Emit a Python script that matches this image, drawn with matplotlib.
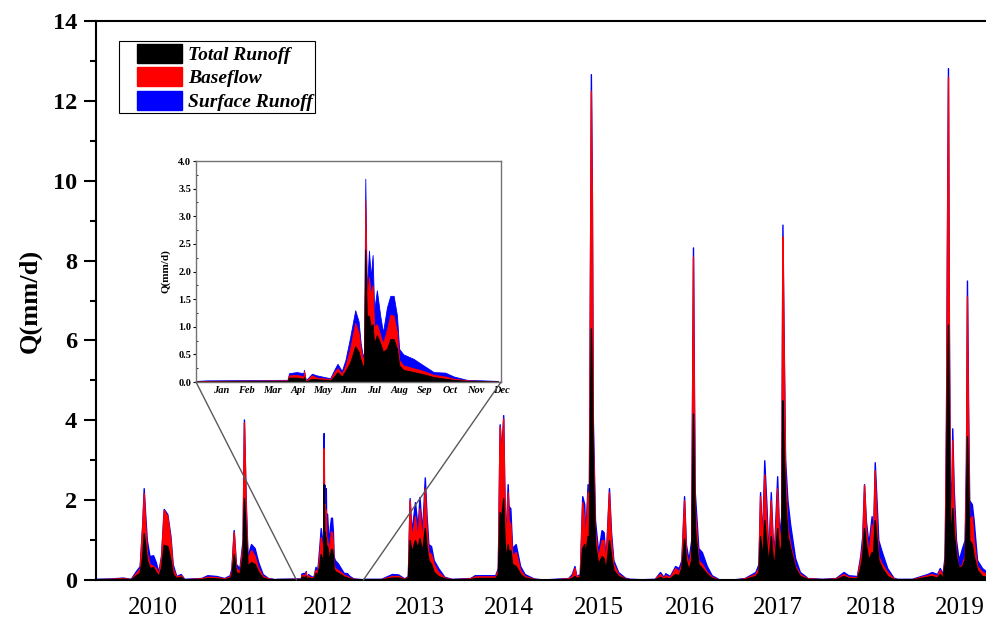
import numpy as np
import matplotlib.pyplot as plt
from matplotlib.patches import Patch, ConnectionPatch
from matplotlib.legend_handler import HandlerPatch
from matplotlib.ticker import MultipleLocator, FormatStrFormatter

plt.rcParams['font.family'] = 'Liberation Serif'

# Runoff (mm/d) at turning points of each year's hydrograph.
# frac_* = position within the year (0 = 1 Jan, 1 = 31 Dec).
frac_2010 = [0.00, 0.17, 0.30, 0.39, 0.44, 0.49, 0.52, 0.535, 0.55, 0.57, 0.60, 0.64, 0.67, 0.70, 0.73, 0.76, 0.80, 0.835, 0.86, 0.90, 0.95, 0.99]
surf_2010 = [0.03, 0.04, 0.06, 0.03, 0.20, 0.35, 1.45, 2.30, 1.70, 1.00, 0.60, 0.62, 0.45, 0.20, 0.62, 1.78, 1.65, 1.10, 0.40, 0.10, 0.15, 0.03]
base_2010 = [0.02, 0.03, 0.05, 0.02, 0.15, 0.28, 1.40, 2.18, 1.50, 0.70, 0.40, 0.35, 0.30, 0.15, 0.55, 1.75, 1.60, 1.00, 0.30, 0.08, 0.12, 0.02]
total_2010 = [0.01, 0.02, 0.03, 0.01, 0.10, 0.18, 0.60, 1.17, 0.90, 0.50, 0.30, 0.32, 0.20, 0.10, 0.30, 0.88, 0.85, 0.50, 0.15, 0.05, 0.08, 0.01]

frac_2011 = [0.00, 0.18, 0.25, 0.35, 0.44, 0.50, 0.52, 0.545, 0.57, 0.61, 0.645, 0.66, 0.68, 0.70, 0.74, 0.78, 0.82, 0.87, 0.93, 0.99]
surf_2011 = [0.03, 0.05, 0.12, 0.10, 0.05, 0.12, 0.30, 1.25, 0.40, 0.30, 1.00, 4.02, 2.00, 0.60, 0.90, 0.80, 0.45, 0.15, 0.05, 0.03]
base_2011 = [0.02, 0.04, 0.08, 0.07, 0.04, 0.08, 0.22, 1.20, 0.30, 0.20, 0.90, 3.95, 1.80, 0.50, 0.75, 0.60, 0.30, 0.10, 0.04, 0.02]
total_2011 = [0.01, 0.02, 0.05, 0.04, 0.02, 0.05, 0.12, 0.65, 0.20, 0.15, 0.60, 2.05, 1.20, 0.35, 0.45, 0.40, 0.20, 0.06, 0.02, 0.01]

frac_2012 = [0.00, 0.035, 0.30, 0.305, 0.33, 0.352, 0.354, 0.36, 0.38, 0.396, 0.43, 0.44, 0.456, 0.464, 0.478, 0.49, 0.505, 0.522, 0.533, 0.54, 0.546, 0.551,
             0.555, 0.56, 0.567, 0.573, 0.579, 0.584, 0.593, 0.604, 0.613, 0.626, 0.637, 0.648, 0.659, 0.666, 0.68, 0.713, 0.746, 0.779, 0.817, 0.845, 0.888, 0.99]
surf_2012 = [0.02, 0.03, 0.04, 0.16, 0.18, 0.16, 0.22, 0.03, 0.15, 0.12, 0.08, 0.07, 0.25, 0.33, 0.20, 0.40, 0.80, 1.30, 1.10, 0.70, 0.50, 0.50,
             3.68, 1.60, 2.38, 1.90, 2.30, 1.30, 1.66, 1.20, 0.90, 1.35, 1.56, 1.56, 1.20, 0.60, 0.50, 0.42, 0.30, 0.18, 0.17, 0.10, 0.04, 0.02]
base_2012 = [0.01, 0.02, 0.03, 0.12, 0.13, 0.10, 0.20, 0.02, 0.12, 0.08, 0.06, 0.05, 0.20, 0.25, 0.15, 0.30, 0.60, 1.07, 0.90, 0.60, 0.45, 0.45,
             3.30, 1.50, 1.90, 1.60, 1.75, 1.00, 1.05, 0.85, 0.70, 0.95, 1.22, 1.20, 0.90, 0.40, 0.30, 0.25, 0.20, 0.13, 0.10, 0.06, 0.03, 0.01]
total_2012 = [0.01, 0.01, 0.02, 0.08, 0.08, 0.06, 0.10, 0.01, 0.06, 0.05, 0.04, 0.03, 0.12, 0.18, 0.10, 0.20, 0.35, 0.65, 0.55, 0.40, 0.30, 0.30,
              2.40, 1.20, 1.20, 1.00, 1.05, 0.70, 0.85, 0.70, 0.55, 0.60, 0.78, 0.78, 0.60, 0.30, 0.22, 0.18, 0.14, 0.09, 0.06, 0.04, 0.02, 0.01]

frac_2013 = [0.00, 0.20, 0.32, 0.39, 0.46, 0.50, 0.52, 0.54, 0.58, 0.61, 0.63, 0.66, 0.69, 0.71, 0.73, 0.76, 0.79, 0.84, 0.91, 0.99]
surf_2013 = [0.03, 0.03, 0.15, 0.14, 0.04, 0.10, 2.05, 1.20, 1.95, 1.30, 2.08, 1.20, 2.57, 1.60, 0.90, 0.85, 0.50, 0.30, 0.08, 0.03]
base_2013 = [0.02, 0.02, 0.10, 0.10, 0.03, 0.08, 2.00, 1.00, 1.60, 1.00, 1.80, 0.90, 2.30, 1.30, 0.70, 0.65, 0.40, 0.20, 0.06, 0.02]
total_2013 = [0.01, 0.01, 0.06, 0.06, 0.02, 0.05, 1.00, 0.70, 1.00, 0.80, 1.05, 0.70, 1.30, 0.80, 0.50, 0.40, 0.20, 0.10, 0.04, 0.01]

frac_2014 = [0.00, 0.20, 0.25, 0.48, 0.51, 0.53, 0.55, 0.57, 0.58, 0.595, 0.62, 0.63, 0.65, 0.67, 0.71, 0.76, 0.81, 0.91, 0.99]
surf_2014 = [0.03, 0.05, 0.12, 0.12, 0.30, 3.90, 3.20, 4.13, 2.60, 0.90, 2.40, 1.85, 1.80, 0.80, 0.90, 0.35, 0.15, 0.04, 0.02]
base_2014 = [0.02, 0.04, 0.09, 0.09, 0.25, 3.85, 3.10, 4.05, 2.50, 0.70, 2.20, 1.50, 1.40, 0.60, 0.70, 0.25, 0.10, 0.03, 0.01]
total_2014 = [0.01, 0.02, 0.05, 0.05, 0.15, 1.70, 1.60, 2.05, 1.30, 0.50, 0.90, 0.70, 0.75, 0.40, 0.35, 0.15, 0.06, 0.02, 0.01]

frac_2015 = [0.00, 0.075, 0.30, 0.34, 0.37, 0.39, 0.43, 0.457, 0.48, 0.49, 0.517, 0.53, 0.554, 0.565, 0.576, 0.60, 0.636, 0.674, 0.697, 0.72, 0.757, 0.78, 0.806, 0.86, 0.936, 0.99]
surf_2015 = [0.02, 0.02, 0.05, 0.15, 0.35, 0.10, 0.15, 2.10, 1.90, 1.00, 2.40, 1.20, 12.67, 9.70, 4.00, 1.50, 0.70, 1.25, 1.20, 0.50, 2.30, 1.20, 0.50, 0.20, 0.06, 0.03]
base_2015 = [0.01, 0.01, 0.04, 0.10, 0.30, 0.08, 0.12, 1.95, 1.50, 0.80, 2.20, 1.00, 12.25, 9.50, 3.60, 1.20, 0.55, 1.00, 1.00, 0.40, 2.20, 1.00, 0.40, 0.15, 0.04, 0.02]
total_2015 = [0.01, 0.01, 0.02, 0.05, 0.10, 0.05, 0.08, 0.80, 0.90, 0.60, 1.10, 0.70, 6.30, 5.00, 2.80, 0.90, 0.40, 0.60, 0.55, 0.25, 1.00, 0.60, 0.25, 0.10, 0.03, 0.01]

frac_2016 = [0.00, 0.124, 0.27, 0.33, 0.37, 0.39, 0.44, 0.50, 0.54, 0.57, 0.60, 0.62, 0.65, 0.68, 0.70, 0.71, 0.72, 0.76, 0.80, 0.855, 0.91, 0.99]
surf_2016 = [0.03, 0.02, 0.03, 0.20, 0.08, 0.17, 0.10, 0.35, 0.30, 0.50, 2.10, 0.90, 0.50, 1.00, 8.33, 5.00, 2.20, 0.80, 0.70, 0.35, 0.12, 0.02]
base_2016 = [0.02, 0.01, 0.02, 0.15, 0.06, 0.12, 0.07, 0.30, 0.20, 0.40, 2.00, 0.70, 0.35, 0.80, 8.10, 4.50, 1.80, 0.50, 0.40, 0.20, 0.08, 0.01]
total_2016 = [0.01, 0.01, 0.01, 0.08, 0.03, 0.06, 0.04, 0.15, 0.12, 0.30, 1.04, 0.50, 0.25, 0.50, 4.17, 2.60, 1.30, 0.40, 0.30, 0.15, 0.05, 0.01]

frac_2017 = [0.00, 0.17, 0.28, 0.40, 0.435, 0.453, 0.476, 0.50, 0.524, 0.546, 0.573, 0.597, 0.615, 0.645, 0.667, 0.69, 0.704, 0.715, 0.734, 0.76, 0.79, 0.846, 0.90, 0.96, 0.99]
surf_2017 = [0.02, 0.02, 0.05, 0.20, 0.40, 2.20, 1.00, 3.00, 1.90, 0.60, 2.20, 0.90, 1.00, 2.60, 1.10, 1.60, 8.90, 6.50, 3.00, 2.00, 1.40, 0.55, 0.20, 0.10, 0.04]
base_2017 = [0.01, 0.01, 0.04, 0.15, 0.30, 2.10, 0.80, 2.65, 1.50, 0.50, 2.00, 0.70, 0.80, 2.30, 0.90, 1.30, 8.60, 6.30, 2.60, 1.30, 0.90, 0.35, 0.15, 0.07, 0.03]
total_2017 = [0.01, 0.01, 0.02, 0.10, 0.20, 1.10, 0.50, 1.50, 0.90, 0.40, 1.10, 0.50, 0.50, 1.30, 0.60, 0.90, 4.50, 3.50, 2.00, 1.10, 0.80, 0.30, 0.10, 0.05, 0.02]

frac_2018 = [0.00, 0.146, 0.30, 0.39, 0.445, 0.54, 0.577, 0.60, 0.62, 0.64, 0.67, 0.705, 0.72, 0.74, 0.76, 0.78, 0.82, 0.88, 0.95, 0.99]
surf_2018 = [0.05, 0.03, 0.05, 0.20, 0.12, 0.10, 0.60, 1.10, 2.40, 1.50, 0.90, 1.60, 1.00, 2.95, 2.00, 1.00, 0.70, 0.30, 0.06, 0.03]
base_2018 = [0.04, 0.02, 0.04, 0.15, 0.08, 0.07, 0.50, 0.90, 2.38, 1.30, 0.60, 1.40, 0.80, 2.75, 1.50, 0.60, 0.40, 0.20, 0.04, 0.02]
total_2018 = [0.02, 0.01, 0.02, 0.10, 0.05, 0.04, 0.30, 0.60, 1.30, 0.90, 0.50, 0.70, 0.60, 1.50, 1.00, 0.50, 0.30, 0.10, 0.02, 0.01]

frac_2019 = [0.00, 0.157, 0.33, 0.38, 0.44, 0.47, 0.50, 0.525, 0.54, 0.55, 0.562, 0.573, 0.584, 0.60, 0.61, 0.626, 0.652, 0.682, 0.72, 0.749,
             0.764, 0.775, 0.787, 0.80, 0.83, 0.85, 0.888, 0.944, 1.00]
surf_2019 = [0.03, 0.03, 0.15, 0.20, 0.15, 0.30, 0.15, 0.60, 4.00, 8.40, 12.82, 6.00, 2.50, 2.00, 3.80, 2.30, 1.00, 0.50, 0.80, 1.00,
             3.00, 7.50, 4.50, 2.00, 1.90, 1.50, 0.50, 0.30, 0.20]
base_2019 = [0.02, 0.02, 0.12, 0.15, 0.10, 0.25, 0.10, 0.50, 3.90, 8.00, 12.60, 5.50, 2.00, 1.50, 3.50, 1.80, 0.70, 0.30, 0.40, 0.60,
             2.70, 7.10, 3.90, 1.50, 1.60, 1.00, 0.35, 0.20, 0.15]
total_2019 = [0.01, 0.01, 0.08, 0.10, 0.06, 0.15, 0.06, 0.40, 2.00, 5.00, 6.40, 3.30, 1.60, 1.00, 1.80, 1.20, 0.60, 0.30, 0.35, 0.50,
              1.60, 3.60, 2.60, 1.00, 0.90, 0.60, 0.25, 0.10, 0.08]

years = list(range(2010, 2020))
year_labels = [str(y) for y in years]
year_label_pos = [2010.64, 2011.65, 2012.60, 2013.63, 2014.63, 2015.64, 2016.66, 2017.65, 2018.70, 2019.69]
month_labels = ['Jan', 'Feb', 'Mar', 'Api', 'May', 'Jun', 'Jul', 'Aug', 'Sep', 'Oct', 'Nov', 'Dec']

fracs = [frac_2010, frac_2011, frac_2012, frac_2013, frac_2014, frac_2015, frac_2016, frac_2017, frac_2018, frac_2019]
surfs = [surf_2010, surf_2011, surf_2012, surf_2013, surf_2014, surf_2015, surf_2016, surf_2017, surf_2018, surf_2019]
bases = [base_2010, base_2011, base_2012, base_2013, base_2014, base_2015, base_2016, base_2017, base_2018, base_2019]
totals = [total_2010, total_2011, total_2012, total_2013, total_2014, total_2015, total_2016, total_2017, total_2018, total_2019]

t = np.concatenate([yr + np.asarray(f) for yr, f in zip(years, fracs)])
surface = np.concatenate(surfs)
baseflow = np.concatenate(bases)
total = np.concatenate(totals)


def draw_runoff(a, x, s, b, k, lw):
    # blue behind, red over it, black on top, all filled down to zero
    a.fill_between(x, s, color='blue', lw=lw)
    a.fill_between(x, b, color='red', lw=lw)
    a.fill_between(x, k, color='black', lw=lw)


fig = plt.figure(figsize=(9.87, 6.23), dpi=100)
ax = fig.add_axes([0.0973, 0.069, 0.9027, 0.8973])
draw_runoff(ax, t, surface, baseflow, total, 1.0)

ax.set_xlim(2010, 2020)
ax.set_ylim(0, 14)
ax.yaxis.set_major_locator(MultipleLocator(2))
ax.yaxis.set_minor_locator(MultipleLocator(1))
ax.set_xticks(year_label_pos, year_labels)
ax.tick_params(axis='x', length=0, pad=12, labelsize=18)
ax.tick_params(axis='y', which='major', direction='out', length=8.5, width=1.5, pad=5, labelsize=17.5)
ax.tick_params(axis='y', which='minor', direction='out', length=4.5, width=1.5)
for lab in ax.get_yticklabels():
    lab.set_fontweight('bold')
for side in ['left', 'top', 'bottom']:
    ax.spines[side].set_linewidth(1.5)
ax.spines['right'].set_visible(False)
ax.set_ylabel('Q(mm/d)', fontsize=19, fontweight='bold')
ax.yaxis.set_label_coords(-0.061, 0.5)

handles = [Patch(color='black', label='Total Runoff'),
           Patch(color='red', label='Baseflow'),
           Patch(color='blue', label='Surface Runoff')]
leg = ax.legend(handles=handles, loc='upper left', bbox_to_anchor=(0.0258, 0.9642), borderaxespad=0,
                prop=dict(weight='bold', style='italic', size=14), handlelength=3.12, handleheight=1.13,
                handletextpad=0.3, labelspacing=0.18, borderpad=0.13, fancybox=False, edgecolor='black',
                framealpha=1, handler_map={Patch: HandlerPatch(xpad=0.8)})
leg.get_frame().set_linewidth(0.8)

# zoom on 2012
axin = fig.add_axes([0.1986, 0.3868, 0.309, 0.3547])
draw_runoff(axin, 2012 + np.asarray(frac_2012), surf_2012, base_2012, total_2012, 0.6)
axin.set_xlim(2012, 2013)
axin.set_ylim(0, 4)
axin.set_xticks([2012 + k / 12 for k in range(1, 13)], month_labels)
axin.yaxis.set_major_locator(MultipleLocator(0.5))
axin.yaxis.set_minor_locator(MultipleLocator(0.25))
axin.yaxis.set_major_formatter(FormatStrFormatter('%.1f'))
axin.tick_params(axis='x', length=0, pad=3, labelsize=7.5)
axin.tick_params(axis='y', which='major', direction='out', length=2.5, width=0.8, pad=1, labelsize=7.5)
axin.tick_params(axis='y', which='minor', direction='in', length=1.5, width=0.6)
for lab in axin.get_xticklabels():
    lab.set_fontweight('bold')
    lab.set_fontstyle('italic')
for lab in axin.get_yticklabels():
    lab.set_fontweight('bold')
for sp in axin.spines.values():
    sp.set_color('0.45')
    sp.set_linewidth(1.0)
axin.set_ylabel('Q(mm/d)', fontsize=8, fontweight='bold')
axin.yaxis.set_label_coords(-0.085, 0.5)

for xa, xb in [(0, 2012.25), (1, 2013.0)]:
    con = ConnectionPatch(xyA=(xa, 0), coordsA=axin.transAxes, xyB=(xb, 0), coordsB=ax.transData,
                          color='0.35', lw=1.0)
    fig.add_artist(con)

fig.savefig('out.png', dpi=100)
